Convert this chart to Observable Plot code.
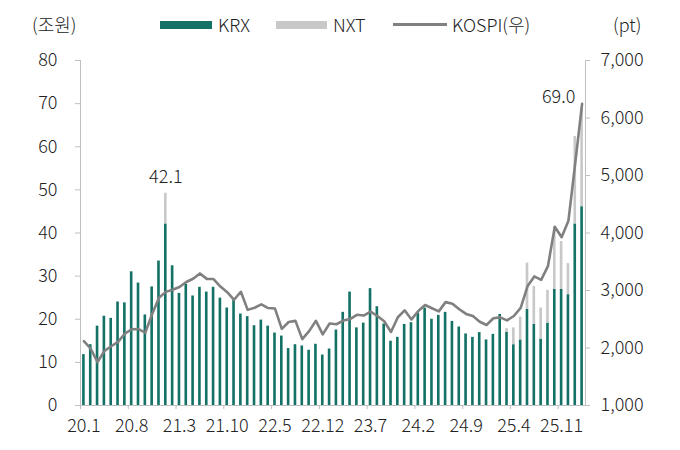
<!DOCTYPE html>
<html><head><meta charset="utf-8">
<script src="https://cdn.jsdelivr.net/npm/d3@7"></script>
<script src="https://cdn.jsdelivr.net/npm/@observablehq/plot@0.6"></script>
<style>
body{margin:0;background:#fff;font-family:"Noto Sans CJK KR","Noto Sans",sans-serif;font-weight:300;}
#wrap{position:relative;width:680px;height:450px;}
.lg{position:absolute;font-size:18px;color:#222;line-height:1;white-space:nowrap;font-weight:300;}
.sw{position:absolute;}
</style></head><body>
<div id="wrap">
  <div class="lg" style="left:32px;top:15px">(조원)</div>
  <div class="sw" style="left:160px;top:21px;width:52px;height:8px;background:#137265"></div>
  <div class="lg" style="left:218px;top:15px">KRX</div>
  <div class="sw" style="left:276px;top:21px;width:51px;height:8px;background:#c8c8c8"></div>
  <div class="lg" style="left:333px;top:15px">NXT</div>
  <div class="sw" style="left:393px;top:23px;width:54px;height:2.6px;background:#808080"></div>
  <div class="lg" style="left:452px;top:15px">KOSPI(우)</div>
  <div class="lg" style="left:613px;top:15px">(pt)</div>
</div>
<script>
const months = [
 "20.1","20.2","20.3","20.4","20.5","20.6","20.7","20.8","20.9","20.10","20.11","20.12",
 "21.1","21.2","21.3","21.4","21.5","21.6","21.7","21.8","21.9","21.10","21.11","21.12",
 "22.1","22.2","22.3","22.4","22.5","22.6","22.7","22.8","22.9","22.10","22.11","22.12",
 "23.1","23.2","23.3","23.4","23.5","23.6","23.7","23.8","23.9","23.10","23.11","23.12",
 "24.1","24.2","24.3","24.4","24.5","24.6","24.7","24.8","24.9","24.10","24.11","24.12",
 "25.1","25.2","25.3","25.4","25.5","25.6","25.7","25.8","25.9","25.10","25.11","25.12",
 "26.1","26.2"];
const krx = [
 11.8,14.1,18.4,20.7,20.2,24.0,23.8,31.0,28.4,21.0,27.5,33.5,
 42.1,32.4,26.0,28.1,25.4,27.4,26.3,27.4,24.9,22.6,24.4,21.2,
 20.6,18.5,19.8,18.4,16.8,16.1,13.2,14.1,13.8,12.8,14.2,11.7,
 13.1,17.5,21.6,26.3,18.0,19.1,27.1,22.9,18.9,14.9,15.8,18.8,
 19.2,21.4,22.6,20.0,20.9,21.6,19.5,18.2,16.6,15.8,16.9,15.2,
 16.5,21.1,17.0,14.1,15.2,22.3,18.8,15.4,19.1,26.9,26.9,25.7,
 42.1,46.1];
const nxt = [
 0,0,0,0,0,0,0,0,0,0,0,0,
 7.1,0,0,0,0,0,0,0,0,0,0,0,
 0,0,0,0,0,0,0,0,0,0,0,0,
 0,0,0,0,0,0,0,0,0,0,0,0,
 0,0,0,0,0,0,0,0,0,0,0,0,
 0,0,0.8,3.9,5.3,10.7,8.8,7.2,7.6,14.6,11.1,7.2,
 20.3,22.9];
const kospi = [
 2119,1987,1755,1948,2030,2108,2249,2326,2328,2267,2591,2873,
 2976,3013,3061,3148,3204,3297,3202,3199,3069,2971,2839,2978,
 2663,2699,2758,2695,2686,2333,2452,2472,2155,2294,2473,2236,
 2425,2413,2477,2502,2577,2564,2633,2556,2465,2278,2535,2655,
 2497,2642,2747,2692,2637,2798,2771,2674,2593,2556,2456,2400,
 2517,2533,2481,2557,2698,3072,3245,3186,3425,4108,3927,4214,
 5220,6245];
const tickMonths = ["20.1","20.8","21.3","21.10","22.5","22.12","23.7","24.2","24.9","25.4","25.11"];
const leftTicks = [0,10,20,30,40,50,60,70,80];
const rightTicks = [1000,2000,3000,4000,5000,6000,7000];
const peakLabels = [{month:"21.1", text:"42.1"}, {month:"26.2", text:"69.0"}];

const yMax = 80, kMin = 1000, kMax = 7000;
const toLeft = k => (k - kMin) / (kMax - kMin) * yMax;
const fromLeft = v => kMin + v / yMax * (kMax - kMin);

const rows = months.map((m, i) => ({month: m, krx: krx[i], nxt: nxt[i], kospi: kospi[i], total: krx[i] + nxt[i]}));
const stacked = rows.flatMap(d => [
  {month: d.month, series: "KRX", value: d.krx},
  {month: d.month, series: "NXT", value: d.nxt}
]);
const labelRows = peakLabels.map(l => ({...l, total: rows.find(r => r.month === l.month).total}));

const grey = "#bfbfbf";
const font = '"Noto Sans CJK KR","Noto Sans",sans-serif';
const bw = (680 - 80 - 95) / months.length;

const chart = Plot.plot({
  width: 680, height: 450,
  marginLeft: 80, marginRight: 95, marginTop: 60, marginBottom: 45,
  style: {fontFamily: font, fontSize: "18px", fontWeight: 300, color: "#222", background: "transparent", overflow: "visible"},
  x: {type: "band", domain: months, padding: 0},
  y: {domain: [0, yMax]},
  color: {domain: ["KRX", "NXT"], range: ["#137265", "#c8c8c8"]},
  marks: [
    Plot.barY(stacked, {x: "month", y: "value", fill: "series", insetLeft: 2.1, insetRight: 2.1, order: ["KRX", "NXT"]}),
    Plot.line(rows, {x: "month", y: d => toLeft(d.kospi), stroke: "#808080", strokeWidth: 2.6, strokeLinejoin: "round"}),
    Plot.frame({anchor: "left", stroke: grey}),
    Plot.frame({anchor: "right", stroke: grey}),
    Plot.ruleY([0], {stroke: grey}),
    Plot.axisY({ticks: leftTicks, tickSize: 5, tickPadding: 18, label: null, stroke: grey}),
    Plot.axisY({anchor: "right", ticks: rightTicks.map(toLeft), tickFormat: v => d3.format(",")(Math.round(fromLeft(v))), tickSize: 4, tickPadding: 11, label: null, stroke: grey}),
    Plot.axisX({ticks: tickMonths, tickSize: 0, tickPadding: 14, label: null}),
    Plot.axisX({ticks: tickMonths, tickSize: 4, tickFormat: () => "", dx: -bw / 2, label: null, stroke: grey}),
    Plot.text(labelRows.filter(d => d.month === "21.1"), {x: "month", y: "total", text: "text", dy: -16, fontSize: 18, fill: "#222"}),
    Plot.text(labelRows.filter(d => d.month === "26.2"), {x: "month", y: "total", text: "text", dx: -23.5, dy: -11, fontSize: 18, fill: "#222"})
  ]
});
chart.style.position = "absolute";
chart.style.left = "0px";
chart.style.top = "0px";
document.getElementById("wrap").prepend(chart);
</script>
</body></html>
